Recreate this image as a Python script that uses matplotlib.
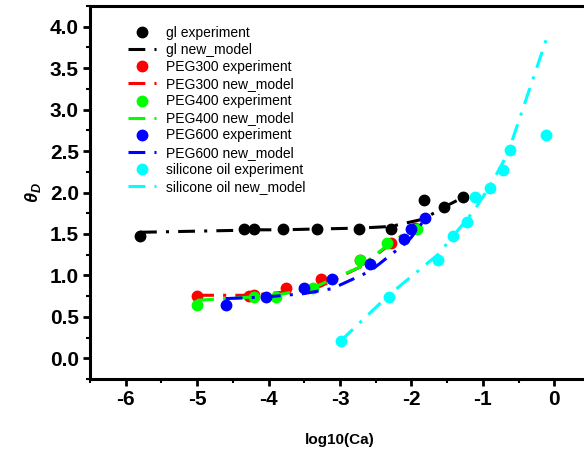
import matplotlib
matplotlib.use('Agg')
import matplotlib.pyplot as plt
from matplotlib.ticker import MultipleLocator, FormatStrFormatter

plt.rcParams['font.family'] = ['Liberation Sans', 'DejaVu Sans']
plt.rcParams['axes.unicode_minus'] = False
plt.rcParams['mathtext.fontset'] = 'custom'
plt.rcParams['mathtext.it'] = 'Liberation Sans:italic:bold'
plt.rcParams['mathtext.rm'] = 'Liberation Sans:bold'

# gl
gl_x = [-5.80, -4.34, -4.20, -3.80, -3.32, -2.74, -2.29, -1.83, -1.55, -1.28]
gl_exp = [1.47, 1.56, 1.56, 1.56, 1.56, 1.56, 1.56, 1.91, 1.82, 1.94]
gl_model = [1.52, 1.545, 1.55, 1.55, 1.56, 1.57, 1.59, 1.68, 1.82, 1.94]

# PEG300
p300_x = [-5.00, -4.27, -4.20, -3.75, -3.27, -2.72, -2.29, -1.95]
p300_exp = [0.75, 0.75, 0.76, 0.85, 0.96, 1.19, 1.39, 1.57]
p300_model = [0.76, 0.76, 0.765, 0.80, 0.87, 1.10, 1.38, 1.60]

# PEG400
p400_x = [-5.00, -4.21, -3.90, -3.38, -2.72, -2.34, -1.92]
p400_exp = [0.64, 0.745, 0.745, 0.85, 1.18, 1.39, 1.56]
p400_model = [0.70, 0.74, 0.76, 0.85, 1.10, 1.36, 1.60]

# PEG600
p600_x = [-4.60, -4.03, -3.51, -3.11, -2.58, -2.11, -2.01, -1.81]
p600_exp = [0.64, 0.745, 0.845, 0.955, 1.14, 1.44, 1.56, 1.69]
p600_model = [0.72, 0.74, 0.78, 0.84, 1.05, 1.37, 1.45, 1.68]

# silicone oil
si_x = [-2.99, -2.32, -1.63, -1.42, -1.22, -1.11, -0.90, -0.72, -0.62, -0.11]
si_exp = [0.21, 0.745, 1.18, 1.47, 1.65, 1.94, 2.05, 2.27, 2.51, 2.69]
si_model = [0.21, 0.76, 1.25, 1.47, 1.68, 1.80, 2.08, 2.36, 2.55, 3.85]

series = [
    ('gl', gl_x, gl_exp, gl_model, 'black'),
    ('PEG300', p300_x, p300_exp, p300_model, '#ff0000'),
    ('PEG400', p400_x, p400_exp, p400_model, '#00ff00'),
    ('PEG600', p600_x, p600_exp, p600_model, '#0000ff'),
    ('silicone oil', si_x, si_exp, si_model, '#00ffff'),
]

fig = plt.figure(figsize=(5.84, 4.57), dpi=100)
ax = fig.add_axes([90 / 584, (457 - 379) / 457, 500 / 584, 373 / 457])

dash = (0, (5.5, 3, 1, 3))
for name, x, y_exp, y_mod, c in series:
    ax.plot(x, y_exp, 'o', color=c, ms=7.5, label=name + ' experiment')
    ax.plot(x, y_mod, color=c, lw=2.2, linestyle=dash, label=name + ' new_model')

ax.set_xlim(-6.5, 0.5)
ax.set_ylim(-0.25, 4.25)
ax.xaxis.set_major_locator(MultipleLocator(1))
ax.xaxis.set_minor_locator(MultipleLocator(0.5))
ax.yaxis.set_major_locator(MultipleLocator(0.5))
ax.yaxis.set_minor_locator(MultipleLocator(0.25))
ax.yaxis.set_major_formatter(FormatStrFormatter('%.1f'))

for s in ax.spines.values():
    s.set_linewidth(2.2)
ax.tick_params(which='major', direction='out', length=5, width=2, labelsize=15, pad=3)
ax.tick_params(which='minor', direction='out', length=3, width=1.5)
for lab in ax.get_xticklabels() + ax.get_yticklabels():
    lab.set_fontweight('bold')

ax.set_xlabel('log10(Ca)', fontsize=11, fontweight='bold', labelpad=17)
ax.set_ylabel(r'$\theta_D$', fontsize=13, labelpad=5)

ax.legend(loc='upper left', bbox_to_anchor=(0.057, 0.972), frameon=False, fontsize=10,
          handlelength=2.0, labelspacing=0.22, borderaxespad=0.3, handletextpad=0.7)

fig.savefig('out.png', dpi=100)
